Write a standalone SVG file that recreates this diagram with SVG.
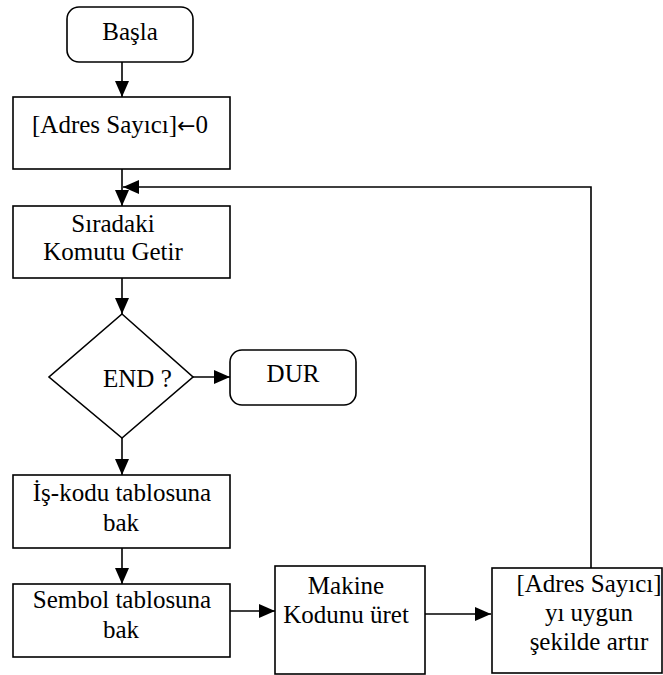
<svg xmlns="http://www.w3.org/2000/svg" width="663" height="675" viewBox="0 0 663 675">
<style>
.box{fill:#fff;stroke:#000;stroke-width:1.6}
.t{font-family:'Liberation Serif','Times New Roman',serif;font-size:25px;fill:#000}
.m{text-anchor:middle}
.c{fill:none;stroke:#000;stroke-width:1.6}
.arr{font-family:'DejaVu Sans',sans-serif;font-size:22px}
</style>
<defs>
<marker id="ah" markerUnits="userSpaceOnUse" markerWidth="16" markerHeight="16" viewBox="0 0 16 14" refX="16" refY="7" orient="auto">
<path d="M0,0 L16,7 L0,14 Z" fill="#000"/>
</marker>
</defs>
<g id="connectors">
<line class="c" x1="122" y1="62" x2="122" y2="97" marker-end="url(#ah)"/>
<line class="c" x1="122" y1="169" x2="122" y2="206" marker-end="url(#ah)"/>
<polyline class="c" points="591,568 591,187 123,187" marker-end="url(#ah)"/>
<line class="c" x1="122" y1="278" x2="122" y2="314" marker-end="url(#ah)"/>
<line class="c" x1="193" y1="377" x2="230" y2="377" marker-end="url(#ah)"/>
<line class="c" x1="122" y1="438" x2="122" y2="475" marker-end="url(#ah)"/>
<line class="c" x1="122" y1="548" x2="122" y2="584" marker-end="url(#ah)"/>
<line class="c" x1="230" y1="611" x2="275" y2="611" marker-end="url(#ah)"/>
<line class="c" x1="425" y1="614" x2="491" y2="614" marker-end="url(#ah)"/>
</g>
<g id="basla">
<rect class="box" x="67" y="7" width="126" height="55" rx="12"/>
<text class="t m" x="130" y="40">Başla</text>
</g>
<g id="init">
<rect class="box" x="13" y="97" width="217" height="72"/>
<text class="t" x="32" y="133">[Adres Sayıcı]<tspan class="arr">←</tspan>0</text>
</g>
<g id="fetch">
<rect class="box" x="13" y="206" width="217" height="72"/>
<text class="t m" x="113" y="232">Sıradaki</text>
<text class="t m" x="113" y="260">Komutu Getir</text>
</g>
<g id="end">
<polygon class="box" points="122,314 193,377 122,438 49,377"/>
<text class="t" x="103" y="387">END ?</text>
</g>
<g id="dur">
<rect class="box" x="230" y="350" width="126" height="55" rx="12"/>
<text class="t m" x="293" y="382">DUR</text>
</g>
<g id="opcode">
<rect class="box" x="13" y="475" width="217" height="73"/>
<text class="t m" x="122" y="501">İş-kodu tablosuna</text>
<text class="t m" x="121" y="531">bak</text>
</g>
<g id="symbol">
<rect class="box" x="13" y="584" width="217" height="73"/>
<text class="t m" x="122" y="608">Sembol tablosuna</text>
<text class="t m" x="121" y="638">bak</text>
</g>
<g id="machine">
<rect class="box" x="275" y="566" width="150" height="108"/>
<text class="t m" x="346" y="594">Makine</text>
<text class="t m" x="346" y="623">Kodunu üret</text>
</g>
<g id="increment">
<rect class="box" x="492" y="568" width="170" height="105"/>
<text class="t m" x="589" y="592">[Adres Sayıcı]</text>
<text class="t m" x="589" y="621">yı uygun</text>
<text class="t m" x="589" y="650">şekilde artır</text>
</g>
</svg>
